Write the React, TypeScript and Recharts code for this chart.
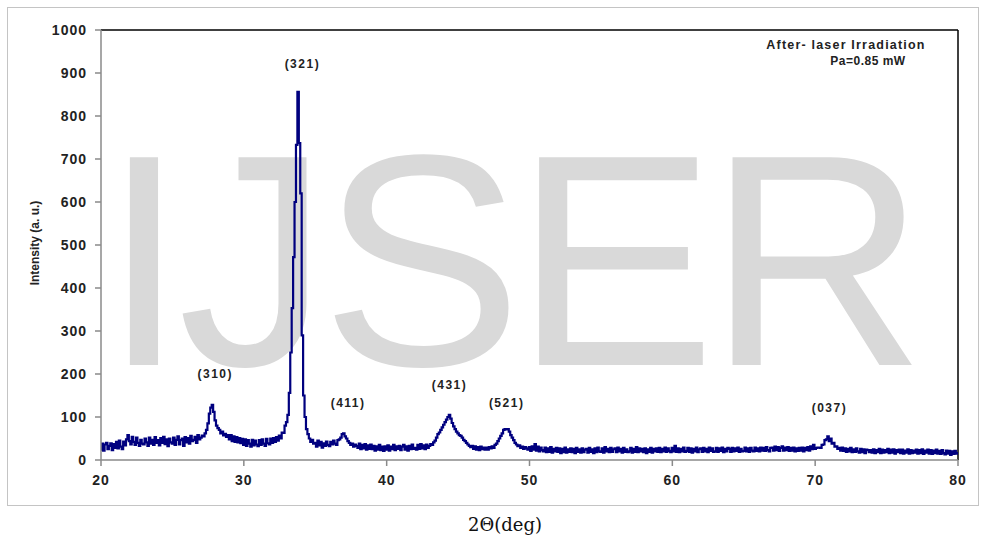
import { LineChart, Line, XAxis, YAxis, ReferenceLine, ReferenceDot } from "recharts"

// intensity sampled every 0.1 deg, one row per degree (20.0 ... 79.9), plus the 80.0 end value
const START_DEG = 20
const STEP_DEG = 0.1

const intensity: number[] = [
  24, 38, 22, 36, 40, 25, 33, 39, 23, 37, // 20
  28, 42, 27, 45, 31, 25, 43, 34, 48, 58, // 21
  44, 36, 54, 42, 35, 52, 40, 33, 47, 38, // 22
  36, 50, 41, 33, 52, 38, 47, 35, 53, 40, // 23
  46, 34, 51, 40, 54, 37, 48, 32, 50, 41, // 24
  38, 52, 35, 47, 55, 36, 46, 50, 33, 53, // 25
  41, 51, 38, 56, 44, 47, 54, 40, 58, 48, // 26
  52, 57, 55, 62, 70, 85, 108, 122, 128, 112, // 27
  92, 80, 74, 70, 62, 66, 57, 61, 54, 58, // 28
  48, 58, 44, 55, 42, 53, 41, 51, 39, 49, // 29
  35, 48, 33, 46, 38, 31, 47, 34, 45, 36, // 30
  32, 46, 35, 48, 38, 33, 49, 39, 36, 50, // 31
  40, 51, 42, 53, 45, 57, 50, 64, 63, 80, // 32
  88, 105, 156, 250, 353, 472, 600, 733, 856, 737, // 33
  620, 290, 150, 100, 72, 60, 50, 42, 47, 38, // 34
  40, 31, 45, 34, 42, 29, 39, 33, 43, 35, // 35
  32, 42, 36, 45, 38, 35, 46, 48, 52, 60, // 36
  62, 55, 50, 44, 40, 35, 38, 31, 36, 33, // 37
  28, 38, 25, 35, 27, 37, 24, 34, 26, 36, // 38
  25, 33, 22, 32, 24, 35, 23, 31, 21, 32, // 39
  24, 34, 22, 31, 25, 35, 23, 32, 26, 33, // 40
  23, 31, 35, 24, 32, 22, 33, 25, 36, 26, // 41
  28, 24, 35, 26, 37, 27, 34, 25, 36, 28, // 42
  33, 37, 35, 41, 45, 52, 60, 64, 70, 76, // 43
  82, 88, 94, 100, 105, 96, 86, 78, 72, 66, // 44
  62, 58, 56, 52, 47, 44, 40, 36, 33, 30, // 45
  33, 26, 32, 24, 30, 23, 31, 25, 29, 24, // 46
  29, 24, 30, 27, 32, 28, 35, 38, 44, 50, // 47
  56, 62, 70, 72, 71, 72, 66, 58, 52, 46, // 48
  40, 36, 32, 34, 28, 31, 26, 30, 27, 24, // 49
  30, 21, 32, 24, 37, 22, 31, 20, 29, 23, // 50
  20, 29, 18, 27, 19, 30, 17, 26, 20, 28, // 51
  19, 27, 16, 26, 18, 29, 17, 25, 19, 27, // 52
  18, 26, 16, 28, 19, 25, 17, 27, 18, 24, // 53
  26, 17, 28, 19, 25, 16, 27, 18, 29, 20, // 54
  19, 27, 17, 30, 20, 26, 18, 28, 19, 25, // 55
  27, 18, 29, 20, 26, 17, 28, 19, 25, 18, // 56
  20, 28, 17, 26, 19, 30, 18, 27, 20, 26, // 57
  18, 27, 16, 25, 19, 28, 17, 26, 20, 27, // 58
  19, 28, 18, 26, 20, 29, 19, 27, 21, 18, // 59
  28, 20, 33, 19, 27, 18, 26, 20, 29, 19, // 60
  21, 28, 19, 27, 17, 26, 20, 29, 18, 25, // 61
  27, 19, 28, 20, 26, 18, 29, 21, 27, 19, // 62
  20, 28, 19, 27, 21, 29, 18, 26, 20, 28, // 63
  26, 19, 28, 20, 27, 21, 29, 19, 26, 20, // 64
  21, 29, 20, 27, 19, 28, 22, 20, 29, 21, // 65
  27, 20, 29, 22, 28, 21, 30, 23, 20, 28, // 66
  29, 22, 31, 23, 30, 21, 28, 32, 22, 29, // 67
  23, 30, 21, 28, 22, 29, 20, 27, 21, 28, // 68
  22, 29, 20, 28, 23, 30, 22, 32, 25, 35, // 69
  26, 28, 29, 29, 28, 35, 36, 46, 48, 55, // 70
  44, 50, 38, 40, 31, 32, 26, 28, 22, 29, // 71
  21, 27, 19, 26, 20, 28, 18, 25, 19, 27, // 72
  20, 17, 26, 18, 25, 16, 24, 23, 18, 23, // 73
  17, 25, 16, 23, 18, 26, 16, 24, 17, 23, // 74
  18, 26, 16, 24, 17, 25, 15, 23, 18, 24, // 75
  16, 24, 15, 22, 17, 25, 15, 23, 16, 22, // 76
  17, 24, 15, 23, 16, 25, 14, 22, 17, 24, // 77
  15, 23, 14, 22, 16, 24, 15, 21, 14, 23, // 78
  16, 13, 22, 15, 21, 12, 20, 14, 21, 15, // 79
  16, // 80
]

const xTicks = [20, 30, 40, 50, 60, 70, 80]
const yTicks = [0, 100, 200, 300, 400, 500, 600, 700, 800, 900, 1000]

const peakLabels = ["(310)", "(321)", "(411)", "(431)", "(521)", "(037)"]
const peakLabelX = [28.0, 34.1, 37.3, 44.4, 48.4, 71.0]
const peakLabelY = [200, 921, 133, 174, 133, 121]

const data = intensity.map((v, i) => ({
  deg: Math.round((START_DEG + i * STEP_DEG) * 10) / 10,
  y: v,
}))

const tickFont = {
  fontFamily: "'Liberation Sans', Arial, sans-serif",
  fontSize: 14,
  fontWeight: 700,
  fill: "#222",
  letterSpacing: 1,
}

function PeakText(props: any) {
  const { cx, cy, text } = props
  if (cx == null || cy == null) return <g />
  return (
    <text
      x={cx}
      y={cy}
      textAnchor="middle"
      dominantBaseline="central"
      fontFamily="'Liberation Sans', Arial, sans-serif"
      fontSize={12}
      fontWeight={700}
      letterSpacing={1.5}
      fill="#222"
    >
      {text}
    </text>
  )
}

export default function App() {
  return (
    <div style={{ position: "absolute", left: 0, top: 0, width: 981, height: 542, background: "#fff" }}>
      {/* outer frame */}
      <div
        style={{
          position: "absolute",
          left: 7,
          top: 7,
          width: 972,
          height: 499,
          boxSizing: "border-box",
          border: "1px solid #c4c4c4",
        }}
      />
      {/* watermark, under the series */}
      <svg width={981} height={542} style={{ position: "absolute", left: 0, top: 0 }}>
        <text
          x={102}
          y={365}
          fontFamily="'Liberation Sans', Arial, sans-serif"
          fontSize={302}
          letterSpacing={-8}
          fill="#d9d9d9"
        >
          IJSER
        </text>
      </svg>
      <div style={{ position: "absolute", left: 0, top: 0 }}>
        <LineChart width={981} height={542} data={data} margin={{ top: 30, right: 23, bottom: 52, left: 61 }}>
          <XAxis
            dataKey="deg"
            type="number"
            domain={[20, 80]}
            ticks={xTicks}
            height={30}
            tickSize={6}
            tickMargin={9}
            axisLine={{ stroke: "#8a8a8a", strokeWidth: 1.5 }}
            tickLine={{ stroke: "#8a8a8a", strokeWidth: 1.5 }}
            tick={tickFont}
            allowDataOverflow
          />
          <YAxis
            type="number"
            domain={[0, 1000]}
            ticks={yTicks}
            width={40}
            tickSize={6}
            tickMargin={8}
            axisLine={{ stroke: "#8a8a8a", strokeWidth: 1.5 }}
            tickLine={{ stroke: "#8a8a8a", strokeWidth: 1.5 }}
            tick={tickFont}
            allowDataOverflow
          />
          <ReferenceLine y={1000} stroke="#000" strokeWidth={1.5} />
          <ReferenceLine x={80} stroke="#000" strokeWidth={1.5} />
          <Line
            type="step"
            dataKey="y"
            stroke="#00007f"
            strokeWidth={2.2}
            dot={false}
            isAnimationActive={false}
          />
          {peakLabels.map((t, i) => (
            <ReferenceDot
              key={t}
              x={peakLabelX[i]}
              y={peakLabelY[i]}
              r={0}
              shape={(p: any) => <PeakText {...p} text={t} />}
            />
          ))}
        </LineChart>
      </div>
      {/* titles and note */}
      <svg width={981} height={542} style={{ position: "absolute", left: 0, top: 0, pointerEvents: "none" }}>
        <text
          x={35}
          y={243}
          transform="rotate(-90 35 243)"
          textAnchor="middle"
          dominantBaseline="central"
          fontFamily="'Liberation Sans', Arial, sans-serif"
          fontSize={12}
          fontWeight={700}
          fill="#222"
        >
          Intensity (a. u.)
        </text>
        <text
          x={846}
          y={49}
          textAnchor="middle"
          fontFamily="'Liberation Sans', Arial, sans-serif"
          fontSize={12.5}
          fontWeight={700}
          letterSpacing={1.2}
          fill="#222"
        >
          After- laser Irradiation
        </text>
        <text
          x={868}
          y={65}
          textAnchor="middle"
          fontFamily="'Liberation Sans', Arial, sans-serif"
          fontSize={12}
          fontWeight={700}
          letterSpacing={0.5}
          fill="#222"
        >
          Pa=0.85 mW
        </text>
        <text
          x={505}
          y={531}
          textAnchor="middle"
          fontFamily="'DejaVu Serif', serif"
          fontSize={18}
          fill="#111"
        >
          2Θ(deg)
        </text>
      </svg>
    </div>
  )
}
